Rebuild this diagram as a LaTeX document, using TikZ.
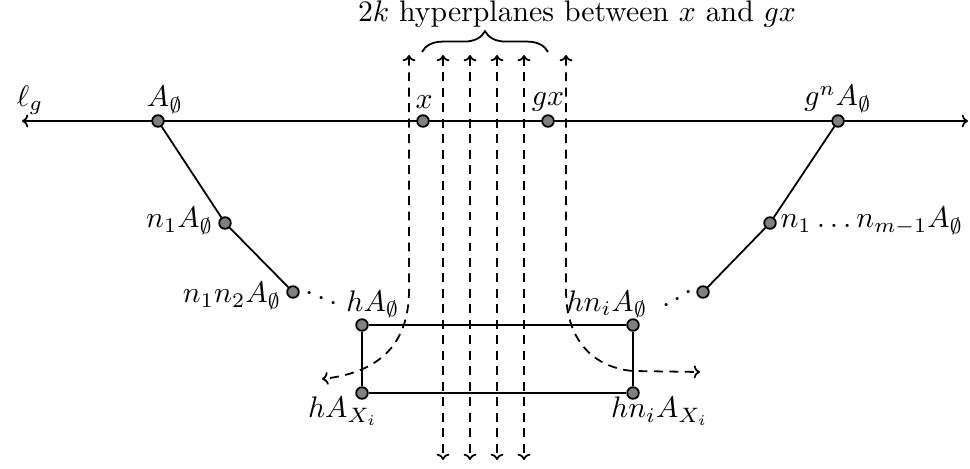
\documentclass[tikz,border=0pt]{standalone}
\usetikzlibrary{decorations.pathreplacing,arrows.meta}
\begin{document}
\begin{tikzpicture}[x=0.336pt,y=-0.336pt,
  dot/.style={circle,draw,fill=gray,inner sep=0pt,minimum size=3.9pt,line width=0.6pt},
  edge/.style={line width=0.6pt},
  tip/.tip={To[length=2.1pt,width=4.3pt]},
  hyp/.style={dash pattern=on 3pt off 2.2pt,line width=0.6pt},
  lab/.style={inner sep=1pt}]
\useasboundingbox (0,0) rectangle (970,468);
% main line
\coordinate (L) at (22,121);
\coordinate (R) at (968,121);
\draw[edge,{tip}-{tip}] (L) -- (R);
\node[lab] (lg) at (30,100) {$\ell_g$};
% hyperplanes
\foreach \i/\xx in {1/443,2/470,3/497,4/524}{
  \coordinate (t\i) at (\xx,55);
  \coordinate (b\i) at (\xx,460);
  \draw[hyp,{tip}-{tip}] (t\i) -- (b\i);
}
\coordinate (tl) at (409,55);
\coordinate (ml) at (409,290);
\coordinate (el) at (322,379);
\draw[hyp,{tip}-{tip}] (tl) -- (ml) .. controls (409,348) and (375,373) .. (el);
\coordinate (tr) at (566,55);
\coordinate (mr) at (566,290);
\coordinate (cr) at (633,371);
\coordinate (er) at (700,372);
\draw[hyp,{tip}-{tip}] (tr) -- (mr) .. controls (566,345) and (598,368) .. (cr) -- (er);
% brace and text
\coordinate (br1) at (422,52);
\coordinate (br2) at (548,52);
\draw[line width=0.6pt,decorate,decoration={brace,amplitude=7pt}] (br1) -- (br2);
\node[lab] (txt) at (577,14) {$2k$ hyperplanes between $x$ and $gx$};
% points on line
\node[dot] (A) at (158,121) {};
\node[lab] (Al) at (165,100) {$A_\emptyset$};
\node[dot] (x) at (423,121) {};
\node[lab] (xl) at (424,102) {$x$};
\node[dot] (gx) at (548,121) {};
\node[lab] (gxl) at (548,102) {$gx$};
\node[dot] (gn) at (838,121) {};
\node[lab] (gnl) at (838,99) {$g^nA_\emptyset$};
% left chain
\node[dot] (n1) at (225,223) {};
\node[lab,anchor=east] (n1l) at (217,221) {$n_1A_\emptyset$};
\node[dot] (n12) at (293,292) {};
\node[lab,anchor=east] (n12l) at (285,296) {$n_1n_2A_\emptyset$};
\draw[edge] (A) -- (n1) -- (n12);
\node[lab] (dl) at (310,294) {$\cdot$};
\node[lab] (dl2) at (322,299) {$\cdot$};
\node[lab] (dl3) at (334,304) {$\cdot$};
% right chain
\node[dot] (m1) at (770,223) {};
\node[lab,anchor=west] (m1l) at (777,221) {$n_1\ldots n_{m-1}A_\emptyset$};
\node[dot] (m2) at (703,292) {};
\draw[edge] (gn) -- (m1) -- (m2);
\node[lab] (dr1) at (667,306) {$\cdot$};
\node[lab] (dr2) at (678,300) {$\cdot$};
\node[lab] (dr3) at (689,293) {$\cdot$};
% rectangle
\node[dot] (h) at (362,325) {};
\node[dot] (hx) at (362,393) {};
\node[dot] (hn) at (633,325) {};
\node[dot] (hnx) at (633,393) {};
\draw[edge] (hn) -- (h) -- (hx) -- (hnx) -- (hn);
\node[lab] (hl) at (373,304) {$hA_\emptyset$};
\node[lab] (hxl) at (343,411) {$hA_{X_i}$};
\node[lab] (hnl) at (607,304) {$hn_iA_\emptyset$};
\node[lab] (hnxl) at (660,411) {$hn_iA_{X_i}$};
\end{tikzpicture}
\end{document}
